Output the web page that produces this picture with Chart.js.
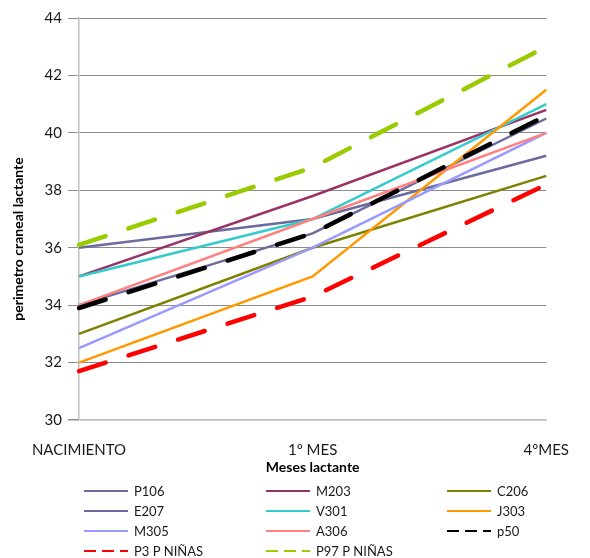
<!DOCTYPE html>
<html>
<head>
<meta charset="utf-8">
<script src="https://cdn.jsdelivr.net/npm/chart.js@4/dist/chart.umd.min.js"></script>
<style>
  html, body { margin: 0; padding: 0; background: #fff; }
  #wrap { width: 590px; height: 558px; position: relative; }
</style>
</head>
<body>
<div id="wrap"><canvas id="c" width="590" height="558"></canvas></div>
<script>
// Head circumference of infants (cm) at birth, 1st month and 4th month
const months = ['NACIMIENTO', '1º MES', '4ºMES'];

const p106 = [36, 37, 39.2];
const m203 = [35, 37.8, 40.8];
const c206 = [33, 36, 38.5];
const e207 = [34, 36.5, 40.5];
const v301 = [35, 37, 41];
const j303 = [32, 35, 41.5];
const m305 = [32.5, 36, 40];
const a306 = [34, 37, 40];
const p50 = [33.9, 36.5, 40.6];
const p3Ninas = [31.7, 34.3, 38.2];
const p97Ninas = [36.1, 38.8, 43];

const yTicks = [30, 32, 34, 36, 38, 40, 42, 44];
const yTitle = 'perimetro craneal lactante';

const FONT = 'Lato, "Open Sans", "Liberation Sans", sans-serif';

function solid(label, data, color) {
  return { label, data, borderColor: color, backgroundColor: color,
           borderWidth: 2.5, pointRadius: 0, tension: 0, fill: false };
}
function dashed(label, data, color) {
  return { label, data, borderColor: color, backgroundColor: color,
           borderWidth: 4.5, borderDash: [28, 24], borderCapStyle: 'round',
           pointRadius: 0, tension: 0, fill: false, legendDash: [12, 6] };
}

const datasets = [
  solid('P106', p106, '#6B6B9E'),
  solid('M203', m203, '#993366'),
  solid('C206', c206, '#808000'),
  solid('E207', e207, '#6B6B9E'),
  solid('V301', v301, '#33CCCC'),
  solid('J303', j303, '#FF9900'),
  solid('M305', m305, '#9999FF'),
  solid('A306', a306, '#FF8080'),
  dashed('p50', p50, '#000000'),
  dashed('P3 P NIÑAS', p3Ninas, '#FF0000'),
  dashed('P97 P NIÑAS', p97Ninas, '#99CC00')
];
// later series are painted over earlier ones
datasets.forEach((d, i) => { d.order = -i; });

// Three-column legend under the axis title, plus the rotated value-axis title
const gridLegend = {
  id: 'gridLegend',
  afterDraw(chart) {
    const ctx = chart.ctx;
    const cols = [84, 266, 447];
    const rows = [491, 511, 531, 551];
    const sampleLen = 44;
    ctx.save();
    ctx.font = '13px ' + FONT;
    ctx.textBaseline = 'middle';
    ctx.textAlign = 'left';
    chart.data.datasets.forEach((ds, i) => {
      const x = cols[i % 3];
      const y = rows[Math.floor(i / 3)];
      ctx.beginPath();
      ctx.strokeStyle = ds.borderColor;
      ctx.lineWidth = 2;
      ctx.lineCap = 'butt';
      ctx.setLineDash(ds.legendDash || []);
      ctx.moveTo(x, y);
      ctx.lineTo(x + sampleLen, y);
      ctx.stroke();
      ctx.setLineDash([]);
      ctx.fillStyle = '#1a1a1a';
      ctx.fillText(ds.label, x + 50, y + 1);
    });

    // value-axis title sits a little below the plot's middle
    ctx.translate(18, chart.chartArea.top + (chart.chartArea.bottom - chart.chartArea.top) / 2 + 20);
    ctx.rotate(-Math.PI / 2);
    ctx.font = 'bold 14px ' + FONT;
    ctx.fillStyle = '#000';
    ctx.textAlign = 'center';
    ctx.textBaseline = 'middle';
    ctx.fillText(yTitle, 0, 0);
    ctx.restore();
  }
};

new Chart(document.getElementById('c'), {
  type: 'line',
  data: { labels: months, datasets },
  plugins: [gridLegend],
  options: {
    responsive: false,
    animation: false,
    layout: { padding: { top: 18, right: 25, bottom: 82, left: 0 } },
    plugins: {
      legend: { display: false },
      tooltip: { enabled: false }
    },
    scales: {
      x: {
        offset: false,
        grid: { display: false, drawTicks: false },
        border: { display: true, color: '#BFBFBF', width: 1.5 },
        ticks: { color: '#1a1a1a', font: { family: FONT, size: 15 }, padding: 21, maxRotation: 0, autoSkip: false },
        title: { display: true, text: 'Meses lactante', color: '#000',
                 font: { family: FONT, size: 14, weight: 'bold' }, padding: { top: 0, bottom: 0 } },
        afterFit(scale) { scale.height = 56; }
      },
      y: {
        min: yTicks[0],
        max: yTicks[yTicks.length - 1],
        afterBuildTicks(scale) { scale.ticks = yTicks.map(v => ({ value: v })); },
        grid: {
          color: (c) => (c.tick && c.tick.value === 30 ? '#BFBFBF' : '#8C8C8C'),
          lineWidth: (c) => (c.tick && c.tick.value === 30 ? 1.5 : 1),
          tickColor: '#8C8C8C',
          tickLength: 11,
          drawTicks: true
        },
        border: { display: true, color: '#BFBFBF', width: 1.5 },
        ticks: { color: '#1a1a1a', font: { family: FONT, size: 15 }, padding: 6 },
        title: { display: false },
        afterFit(scale) { scale.width = 79; }
      }
    }
  }
});
</script>
</body>
</html>
